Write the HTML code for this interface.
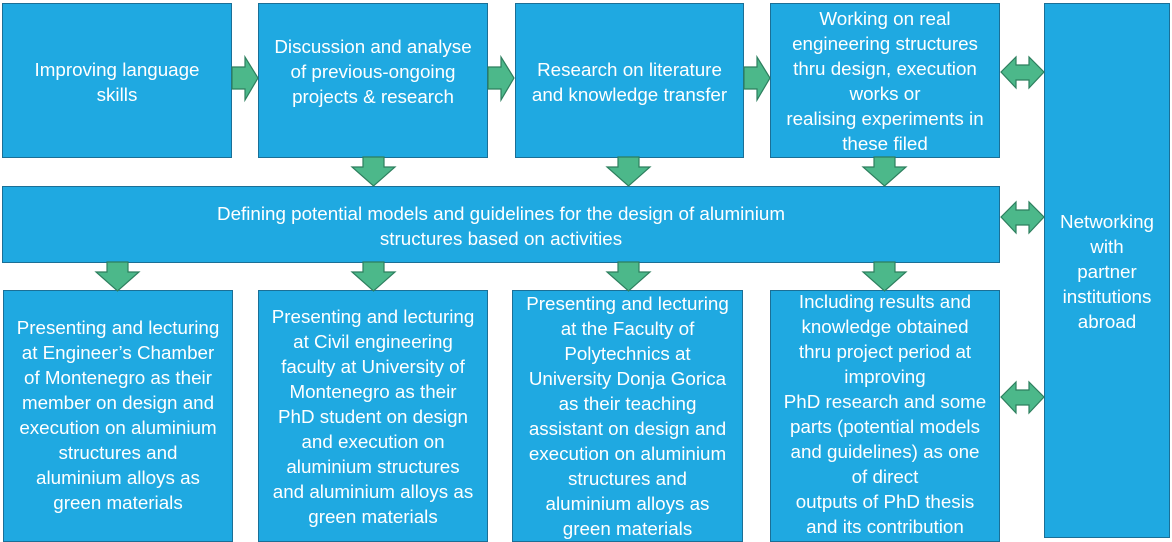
<!DOCTYPE html>
<html><head><meta charset="utf-8"><style>
body{margin:0;width:1172px;height:539px;background:#fff;position:relative;overflow:hidden;font-family:"Liberation Sans",sans-serif;}
.b{position:absolute;background:#1fa9e1;border:1.5px solid #1b6f96;box-sizing:border-box;color:#fff;font-size:18.8px;line-height:25px;text-align:center;white-space:nowrap;}
.t{position:absolute;left:-10px;right:-10px;}
svg{position:absolute;left:0;top:0;}
</style></head><body>
<div class="b" style="left:2px;top:3px;width:230px;height:155px"><div class="t" style="top:53px">Improving language<br>skills</div></div>
<div class="b" style="left:258px;top:3px;width:230px;height:155px"><div class="t" style="top:30px">Discussion and analyse<br>of previous-ongoing<br>projects &amp; research</div></div>
<div class="b" style="left:515px;top:3px;width:229px;height:155px"><div class="t" style="top:53px">Research on literature<br>and knowledge transfer</div></div>
<div class="b" style="left:770px;top:3px;width:230px;height:155px"><div class="t" style="top:2px">Working on real<br>engineering structures<br>thru design, execution<br>works or<br>realising experiments in<br>these filed</div></div>
<div class="b" style="left:1044px;top:3px;width:126px;height:535px"><div class="t" style="top:205px">Networking<br>with<br>partner<br>institutions<br>abroad</div></div>
<div class="b" style="left:2px;top:186px;width:998px;height:77px"><div class="t" style="top:14px;left:0;right:0">Defining potential models and guidelines for the design of aluminium<br>structures based on activities</div></div>
<div class="b" style="left:3px;top:290px;width:230px;height:252px"><div class="t" style="top:24px">Presenting and lecturing<br>at Engineer’s Chamber<br>of Montenegro as their<br>member on design and<br>execution on aluminium<br>structures and<br>aluminium alloys as<br>green materials</div></div>
<div class="b" style="left:258px;top:290px;width:230px;height:252px"><div class="t" style="top:13px">Presenting and lecturing<br>at Civil engineering<br>faculty at University of<br>Montenegro as their<br>PhD student on design<br>and execution on<br>aluminium structures<br>and aluminium alloys as<br>green materials</div></div>
<div class="b" style="left:512px;top:290px;width:231px;height:252px"><div class="t" style="top:0px">Presenting and lecturing<br>at the Faculty of<br>Polytechnics at<br>University Donja Gorica<br>as their teaching<br>assistant on design and<br>execution on aluminium<br>structures and<br>aluminium alloys as<br>green materials</div></div>
<div class="b" style="left:770px;top:290px;width:230px;height:252px"><div class="t" style="top:-2px">Including results and<br>knowledge obtained<br>thru project period at<br>improving<br>PhD research and some<br>parts (potential models<br>and guidelines) as one<br>of direct<br>outputs of PhD thesis<br>and its contribution</div></div>
<svg width="1172" height="539" fill="#4cb88a" stroke="#2d7f5e" stroke-width="1.2">
<g id="r"><polygon points="232,67 245,67 245,57 258,78 245,100 245,89 232,89"/></g>
<use href="#r" x="256"/><use href="#r" x="512"/>
<g id="d"><polygon points="363,157 384,157 384,167 395,167 373.5,186 352,167 363,167"/></g>
<use href="#d" x="255"/><use href="#d" x="511"/>
<use href="#d" x="-256" y="105"/><use href="#d" y="105"/><use href="#d" x="255" y="105"/><use href="#d" x="511" y="105"/>
<g id="h"><polygon points="1001,72 1016,57 1016,65 1029,65 1029,57 1044,72 1029,88 1029,80 1016,80 1016,88"/></g>
<use href="#h" y="145"/><use href="#h" y="325"/>
</svg>
</body></html>
